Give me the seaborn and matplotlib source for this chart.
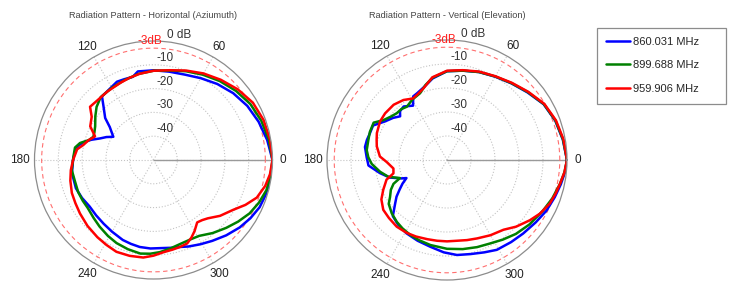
import numpy as np
import pandas as pd
import matplotlib
matplotlib.use("Agg")
import matplotlib.pyplot as plt
from matplotlib.patches import Rectangle
from matplotlib.lines import Line2D
import seaborn as sns

# legend labels / colours
freqs = ['860.031 MHz', '899.688 MHz', '959.906 MHz']
colors = ['#0000ff', '#008000', '#ff0000']

# Horizontal (azimuth) pattern, angle in degrees, gain in dB
h_blue_ang = [0, 10, 20, 30, 40, 50, 60, 70, 80, 90, 96, 100, 104, 110, 115, 124, 129, 133, 139, 143, 150, 154, 158,
              162, 166, 170, 174, 180, 189, 200, 208, 216, 224, 232, 240, 249, 255, 261, 268, 276, 282, 287, 292, 299,
              306, 314, 322, 329, 336, 343, 350, 355, 360]
h_blue_db = [0, -1.5, -3, -4.5, -6.3, -8.3, -10.3, -11.8, -12.3, -12.3, -12.4, -12.2, -14, -13.9, -13.7, -15.2, -15.6,
             -19.2, -23.1, -27, -30.5, -28, -25.8, -22.5, -19.5, -17.4, -16.8, -16.2, -15.3, -15.3, -16, -16.8, -16.5,
             -16, -15.2, -14, -13.5, -13, -12.8, -12.8, -12.3, -11.8, -10.8, -9.5, -8, -6, -4, -2.5, -1.2, -0.6, -0.3,
             -0.1, 0]

h_green_ang = [0, 10, 20, 30, 40, 50, 60, 70, 80, 90, 100, 110, 120, 130, 137, 143, 150, 155, 159, 163, 167, 171, 178,
               187, 195, 203, 210, 216, 224, 231, 239, 246, 254, 262, 268, 274, 281, 288, 295, 301, 309, 317, 324, 331,
               338, 345, 352, 360]
h_green_db = [0, -0.8, -1.8, -3, -4.8, -6.7, -8.6, -10.3, -11.8, -12.5, -13.3, -14.3, -15, -15.5, -17.3, -19.4, -21.7,
              -22.6, -22.9, -21.5, -18.3, -16.6, -16.3, -15.4, -15.8, -15.6, -15.7, -15.8, -15, -14, -12.8, -11.8, -11,
              -10.3, -10.6, -11.2, -12.2, -13, -13.2, -12.8, -10.5, -8.2, -6, -3.8, -2.2, -0.9, -0.4, 0]

h_red_ang = [0, 10, 20, 30, 40, 50, 60, 70, 80, 90, 99, 106, 113, 124, 133, 140, 145, 152, 158, 163, 168, 172, 180, 187,
             194, 202, 209, 216, 225, 234, 241, 248, 256, 264, 270, 276, 282, 287, 292, 296, 300, 305, 309, 313, 320,
             328, 334, 340, 347, 353, 360]
h_red_db = [0, -0.3, -0.8, -1.8, -3.8, -6, -8, -10, -11.7, -12.5, -13.3, -14, -14.7, -15.3, -15.6, -15.2, -18.3, -19.9,
            -23.5, -21.5, -19.8, -17.6, -16.2, -15, -14, -13, -12.5, -11.8, -10.8, -9.9, -9.2, -8.4, -8.5, -8.8, -9.8,
            -11, -11.5, -11.8, -12.2, -13.7, -15.5, -18, -17.5, -16.5, -13.5, -10.5, -7, -3.8, -1.8, -0.7, 0]

# Vertical (elevation) pattern
v_blue_ang = [0, 10, 20, 30, 40, 50, 60, 70, 80, 90, 100, 107, 114, 118, 122, 129, 134, 137, 142, 148, 155, 161, 166,
              171, 178, 184, 191, 197, 202, 204, 208, 212, 216, 220, 226, 233, 241, 250, 259, 268, 276, 284, 292, 299,
              308, 316, 325, 333, 341, 348, 354, 360]
v_blue_db = [0, -1, -2, -3.5, -6.2, -8.3, -9.9, -11, -12.2, -13, -15.5, -18, -19.5, -20, -23.3, -21.3, -21.8, -23.3,
             -21.5, -19.6, -16, -16, -15.6, -15.4, -16.5, -17.2, -21.5, -25, -29.5, -31.5, -29, -26.7, -24, -21.8,
             -17.5, -16.2, -15.1, -14.2, -13.2, -11.5, -10.2, -9.6, -8.5, -7.2, -6.6, -5.9, -4.8, -3.5, -2.5, -1.5,
             -0.6, 0]

v_green_ang = [0, 10, 20, 30, 40, 50, 60, 70, 80, 90, 100, 106, 112, 120, 127, 132, 137, 142, 148, 153, 160, 166, 173,
               178, 183, 190, 196, 201, 204, 208, 213, 217, 224, 231, 237, 244, 251, 259, 270, 280, 289, 297, 305, 313,
               322, 332, 340, 348, 354, 360]
v_green_db = [0, -0.9, -1.9, -3.4, -6, -8.2, -9.8, -11, -12.2, -13, -15.2, -17.5, -20, -21, -22.2, -21.5, -21.4, -20.5,
              -18.7, -15.7, -15.8, -16.2, -16.3, -17.2, -18.6, -21.7, -24.6, -29, -25.6, -23.5, -21.7, -19.6, -18,
              -16.8, -16, -15.2, -14.6, -13.9, -13, -12.3, -11.6, -10.9, -9.5, -7.9, -6.4, -4.8, -3.3, -1.9, -0.8, 0]

v_red_ang = [0, 10, 20, 30, 40, 50, 60, 70, 80, 90, 100, 108, 114, 119, 126, 134, 143, 150, 159, 164, 169, 177, 182,
             189, 194, 198, 205, 211, 218, 225, 233, 241, 248, 256, 263, 270, 277, 284, 291, 300, 309, 316, 324, 330,
             337, 343, 348, 354, 360]
v_red_db = [0, -0.7, -1.7, -3.2, -5.8, -8, -9.7, -10.8, -12, -12.8, -15, -18.5, -20, -20.7, -19.1, -18, -17.7, -17.8,
            -18.7, -19.5, -20.2, -22, -24.9, -27.4, -27, -23.5, -20.7, -18.1, -16.3, -15.8, -15.2, -15.3, -15.6, -16,
            -16.1, -16.1, -16.1, -15.6, -15, -13.8, -12.6, -10, -7.3, -5.3, -3.5, -2.6, -1.9, -0.8, 0]

ring_ticks = [-40, -30, -20, -10]
angle_ticks = [0, 60, 120, 180, 240, 300]

sns.set_theme(style='white')
plt.rcParams['font.family'] = ['Liberation Sans', 'DejaVu Sans']

W, H = 729, 281
fig = plt.figure(figsize=(W / 100, H / 100), dpi=100)

# where the angle labels sit, in axes fractions of the polar box
angle_pos = {0: (1.044, 0.5), 60: (0.777, 0.975), 120: (0.222, 0.975),
             180: (-0.06, 0.5), 240: (0.222, 0.022), 300: (0.779, 0.022)}


def pattern(rect, series, title, tx):
    ax = fig.add_axes(rect, projection='polar')
    df = pd.concat([pd.DataFrame({'theta': np.deg2rad(a), 'db': d, 'freq': f}) for a, d, f in series])
    sns.lineplot(data=df, x='theta', y='db', hue='freq', hue_order=freqs, palette=colors, sort=False,
                 estimator=None, lw=1.8, legend=False, ax=ax)
    ax.set_ylim(-50, 0)
    ax.set_yticks(ring_ticks)
    ax.set_yticklabels([])
    ax.set_thetagrids(angle_ticks, [''] * len(angle_ticks))
    ax.grid(True, color='#c4c4c4', ls=':', lw=0.8)
    ax.spines['polar'].set_color('#8c8c8c')
    ax.spines['polar'].set_linewidth(0.9)
    ax.set_xlabel('')
    ax.set_ylabel('')
    # solid 0 deg spoke
    ax.plot([0, 0], [-50, 0], color='#9a9a9a', lw=1, zorder=1)
    # -3 dB reference circle
    th = np.linspace(0, 2 * np.pi, 361)
    ax.plot(th, np.full_like(th, -3), color='#ff6f6f', ls=(0, (4, 3)), lw=0.8, zorder=1)
    for a in angle_ticks:
        x, y = angle_pos[a]
        ax.text(x, y, str(a), transform=ax.transAxes, ha='center', va='center', fontsize=8.5, color='#222222')
    for v in ring_ticks:
        ax.text(0.55, 0.5 + (v + 50) / 100 + 0.029, str(v), transform=ax.transAxes,
                ha='center', va='center', fontsize=8.5, color='#333333')
    ax.text(0.608, 1.027, '0 dB', transform=ax.transAxes, ha='center', va='center', fontsize=8.5, color='#333333')
    ax.text(0.486, 0.998, '-3dB', transform=ax.transAxes, ha='center', va='center', fontsize=8.5, color='#ff2020')
    fig.text(tx / W, 1 - 15 / H, title, ha='center', va='center', fontsize=6.6, color='#444444')
    return ax


ax1 = pattern([34.5 / W, 2 / H, 238 / W, 238 / H],
              [(h_blue_ang, h_blue_db, freqs[0]), (h_green_ang, h_green_db, freqs[1]), (h_red_ang, h_red_db, freqs[2])],
              'Radiation Pattern - Horizontal (Aziumuth)', 153)
ax2 = pattern([327 / W, 1 / H, 240 / W, 240 / H],
              [(v_blue_ang, v_blue_db, freqs[0]), (v_green_ang, v_green_db, freqs[1]), (v_red_ang, v_red_db, freqs[2])],
              'Radiation Pattern - Vertical (Elevation)', 447)

# legend box
fig.patches.append(Rectangle((597 / W, 1 - 104 / H), 129 / W, 76 / H, transform=fig.transFigure,
                             fill=False, edgecolor='#8c8c8c', lw=0.9))
handles = [Line2D([], [], color=c, lw=1.8) for c in colors]
fig.legend(handles, freqs, loc='upper left', bbox_to_anchor=(606 / W, 1 - 37 / H), frameon=False,
           fontsize=8, borderpad=0, borderaxespad=0, handlelength=2.2, handletextpad=0.2, labelspacing=1.2)

fig.savefig('out.png', dpi=100)
